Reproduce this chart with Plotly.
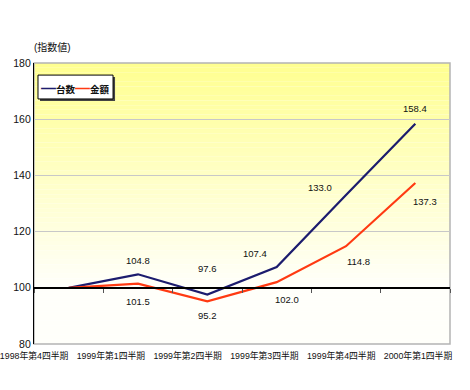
import plotly.graph_objects as go

categories = ["1998年第4四半期", "1999年第1四半期", "1999年第2四半期",
              "1999年第3四半期", "1999年第4四半期", "2000年第1四半期"]
units = [100.0, 104.8, 97.6, 107.4, 133.0, 158.4]     # 台数
amount = [100.0, 101.5, 95.2, 102.0, 114.8, 137.3]    # 金額
y_ticks = [80, 100, 120, 140, 160, 180]
series_names = ["台数", "金額"]

# label offsets (px) for each point (None = no label)
units_shift = [None, (0, 14), (0, 26), (-22, 14), (-26, 8), (0, 15)]
amount_shift = [None, (0, -18), (0, -14), (10, -17), (12, -15), (10, -19)]

FONT = "Arial, 'Liberation Sans', 'Noto Sans CJK JP', sans-serif"
BLUE = "#1c1c6e"
RED = "#ff3a12"

fig = go.Figure()
fig.add_trace(go.Scatter(x=categories, y=units, name=series_names[0], mode="lines",
                         line=dict(color=BLUE, width=2.2), showlegend=False))
fig.add_trace(go.Scatter(x=categories, y=amount, name=series_names[1], mode="lines",
                         line=dict(color=RED, width=2.2), showlegend=False))

ann = []
for vals, shifts in ((units, units_shift), (amount, amount_shift)):
    for c, v, s in zip(categories, vals, shifts):
        if s is None:
            continue
        ann.append(dict(x=c, y=v, text=f"{v:.1f}", showarrow=False,
                        xshift=s[0], yshift=s[1],
                        font=dict(size=9.5, color="#111", family=FONT)))
ann.append(dict(x=-0.005, y=1.057, xref="paper", yref="paper", text="(指数値)",
                showarrow=False, xanchor="left", yanchor="middle",
                font=dict(size=10, color="#111", family=FONT)))

# compact legend: box + shadow as shapes, text as one annotation
LX0, LX1, LY0, LY1 = 0.0096, 0.19, 0.872, 0.957
dx, dy = 2 / 416, 2 / 281
dash = "<span style='font-size:15px;color:{c}'><b>—</b></span>"
leg_text = (dash.format(c=BLUE) + f"<b>{series_names[0]}</b>"
            + dash.format(c=RED) + f"<b>{series_names[1]}</b>")
ann.append(dict(x=(LX0 + LX1) / 2, y=(LY0 + LY1) / 2, xref="paper", yref="paper",
                text=leg_text, showarrow=False, xanchor="center", yanchor="middle",
                font=dict(size=9.5, color="#111", family=FONT)))

# gradient background stripes
shapes = []
n = 60
top = (255, 255, 145)
bot = (255, 255, 250)
for i in range(n):
    t = i / (n - 1)
    t2 = min(1.0, t * 1.25)
    col = tuple(round(top[k] + (bot[k] - top[k]) * t2) for k in range(3))
    y1 = 1 - i / n
    y0 = 1 - (i + 1) / n
    shapes.append(dict(type="rect", xref="paper", yref="paper", x0=0, x1=1,
                       y0=y0, y1=y1, fillcolor=f"rgb{col}", line=dict(width=0),
                       layer="below"))
shapes.append(dict(type="rect", xref="paper", yref="paper", x0=0, x1=1, y0=0, y1=1,
                   line=dict(color="#b4b4b4", width=1.5), layer="below"))
shapes.append(dict(type="rect", xref="paper", yref="paper", x0=LX0 + dx, x1=LX1 + dx,
                   y0=LY0 - dy, y1=LY1 - dy, fillcolor="#444", line=dict(width=0),
                   layer="above"))
shapes.append(dict(type="rect", xref="paper", yref="paper", x0=LX0, x1=LX1,
                   y0=LY0, y1=LY1, fillcolor="white", line=dict(color="black", width=1),
                   layer="above"))

fig.update_layout(
    width=470, height=390,
    margin=dict(l=34, r=20, t=63, b=46, autoexpand=False),
    paper_bgcolor="white", plot_bgcolor="rgba(0,0,0,0)",
    font=dict(family=FONT, size=10, color="#111"),
    showlegend=False,
    xaxis=dict(type="category", range=[-0.5, 5.5], anchor="free", position=0.2,
               showline=True, linecolor="black", linewidth=1.5,
               ticks="outside", tickson="boundaries", ticklen=4, tickcolor="#555",
               showticklabels=False, showgrid=False, zeroline=False, automargin=False),
    xaxis2=dict(overlaying="x", anchor="y", range=[-0.001, 5.417],
                tickvals=list(range(len(categories))), ticktext=categories,
                showgrid=False, zeroline=False, showline=False, ticks="",
                ticklabeloverflow="allow", automargin=False, ticklabelstandoff=5,
                tickfont=dict(size=8.8, color="#111", family=FONT)),
    yaxis=dict(range=[80, 180], tickvals=y_ticks, showline=True, linecolor="black",
               linewidth=1.2, showgrid=True, gridcolor="#c8c8c8", gridwidth=1,
               zeroline=False, ticks="", ticklen=0, automargin=False,
               tickfont=dict(size=10.5, color="#111", family=FONT)),
    annotations=ann, shapes=shapes,
)
# invisible trace so xaxis2 is drawn
fig.add_trace(go.Scatter(x=[0], y=[80], xaxis="x2", mode="markers",
                         marker=dict(opacity=0), showlegend=False, hoverinfo="skip"))

fig.write_html("out.html", config={"displayModeBar": False},
               post_script="document.body.style.margin='0';document.body.style.padding='0';")
